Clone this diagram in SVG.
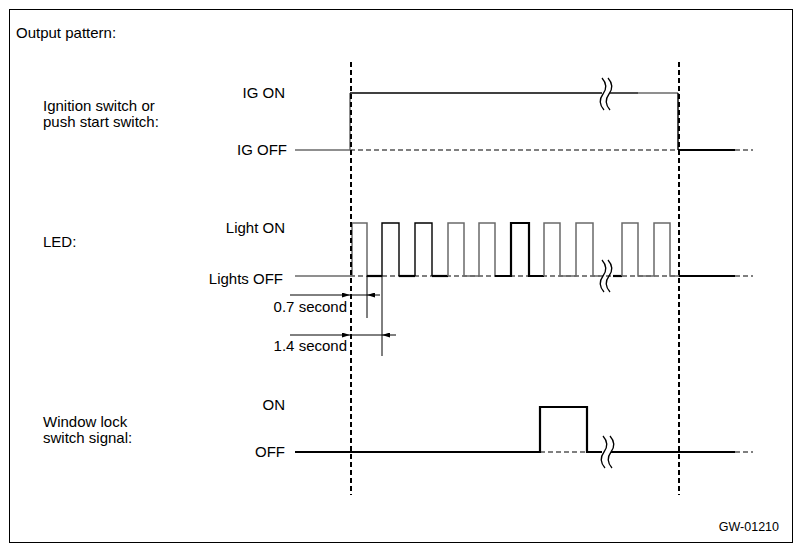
<svg xmlns="http://www.w3.org/2000/svg" width="802" height="553" viewBox="0 0 802 553">
<style>
text{font-family:"Liberation Sans",Arial,sans-serif;font-size:15px;fill:#000}
.r{text-anchor:end}
.vd{stroke:#000;stroke-width:2;stroke-dasharray:5 3;fill:none}
.hd{stroke:#000;stroke-width:1.2;stroke-dasharray:5 3;fill:none}
.g{stroke:#6a6a6a;stroke-width:1.5;fill:none}
.k{stroke:#000;stroke-width:1.4;fill:none}
.b{stroke:#000;stroke-width:2.2;fill:none}
.brk{stroke:#000;stroke-width:1.3;fill:none}
.dim{stroke:#000;stroke-width:1;fill:none}
</style>
<defs>
<marker id="ah" viewBox="0 0 8 5" refX="8" refY="2.5" markerWidth="8" markerHeight="5" markerUnits="userSpaceOnUse" orient="auto">
<path d="M0,0 L8,2.5 L0,5 z" fill="#000"/>
</marker>
<path id="brkShape" d="M-1,-16 Q6,-8 0,0 Q-6,8 1,16"/>
</defs>
<rect x="9.5" y="9.5" width="783" height="533" fill="#fff" stroke="#000" stroke-width="1"/>

<g id="labels">
<text x="16" y="38">Output pattern:</text>
<text x="43" y="111">Ignition switch or</text>
<text x="43" y="127">push start switch:</text>
<text x="43" y="247">LED:</text>
<text x="43" y="427">Window lock</text>
<text x="43" y="443">switch signal:</text>
<text x="779" y="531" class="r" style="font-size:12.5px">GW-01210</text>
</g>

<g id="ig-signal">
<text x="285" y="98" class="r">IG ON</text>
<text x="287" y="155" class="r">IG OFF</text>
<line x1="295" y1="150" x2="350" y2="150" class="g"/>
<line x1="350" y1="150" x2="678" y2="150" class="hd"/>
<line x1="350" y1="93" x2="350" y2="150" class="g"/>
<line x1="350" y1="93" x2="602" y2="93" class="k"/>
<line x1="610" y1="93" x2="638" y2="93" class="k"/>
<line x1="638" y1="93" x2="678" y2="93" class="g"/>
<line x1="678" y1="93" x2="678" y2="150" class="k"/>
<line x1="678" y1="150" x2="735" y2="150" class="b"/>
<line x1="735" y1="150" x2="753" y2="150" class="hd"/>
<g class="brk"><use href="#brkShape" x="603" y="94"/><use href="#brkShape" x="609" y="94"/></g>
</g>

<g id="led-signal">
<text x="285" y="233" class="r">Light ON</text>
<text x="283" y="284" class="r">Lights OFF</text>
<line x1="295" y1="276" x2="350" y2="276" class="g"/>
<line x1="350" y1="276" x2="679" y2="276" class="hd"/>
<path class="g" d="M352,276 V223 H367 V276"/>
<path class="b" d="M367,276 H382"/>
<path class="k" d="M382,276 V223 H399 V276"/>
<path class="b" d="M399,276 H415"/>
<path class="k" d="M415,276 V223 H432 V276"/>
<path class="b" d="M432,276 H448"/>
<path class="g" d="M448,276 V223 H464 V276 H479 V223 H495 V276"/>
<path class="b" d="M495,276 H511 V223 H529 V276 H544"/>
<path class="g" d="M544,276 V223 H560 V276 H576 V223 H593 V276 H600"/>
<path class="b" d="M613,276 H622"/>
<path class="g" d="M622,276 V223 H638 V276 H654 V223 H670 V276 H679"/>
<line x1="679" y1="276" x2="735" y2="276" class="b"/>
<line x1="735" y1="276" x2="753" y2="276" class="hd"/>
<g class="brk"><use href="#brkShape" x="603" y="276"/><use href="#brkShape" x="609" y="276"/></g>
<line x1="367" y1="276" x2="367" y2="318" class="dim"/>
<line x1="382" y1="276" x2="382" y2="356" class="dim"/>
<text x="347" y="312" class="r">0.7 second</text>
<text x="347" y="351" class="r">1.4 second</text>
</g>

<g id="window-signal">
<text x="285" y="410" class="r">ON</text>
<text x="285" y="457" class="r">OFF</text>
<path class="b" d="M295,452 H540 V407 H587 V452 H602"/>
<line x1="540" y1="452" x2="587" y2="452" class="hd"/>
<line x1="611" y1="452" x2="735" y2="452" class="b"/>
<line x1="735" y1="452" x2="753" y2="452" class="hd"/>
<g class="brk"><use href="#brkShape" x="604" y="452"/><use href="#brkShape" x="611" y="452"/></g>
</g>

<g id="time-markers">
<line x1="351" y1="62" x2="351" y2="495" class="vd"/>
<line x1="679" y1="62" x2="679" y2="495" class="vd"/>
</g>

<g id="connectors">
<line x1="290" y1="295" x2="350" y2="295" class="dim" marker-end="url(#ah)"/>
<line x1="350" y1="295" x2="367" y2="295" class="dim"/>
<line x1="380" y1="295" x2="367" y2="295" class="dim" marker-end="url(#ah)"/>
<line x1="290" y1="335" x2="350" y2="335" class="dim" marker-end="url(#ah)"/>
<line x1="350" y1="335" x2="382" y2="335" class="dim"/>
<line x1="396" y1="335" x2="382" y2="335" class="dim" marker-end="url(#ah)"/>
</g>
</svg>
